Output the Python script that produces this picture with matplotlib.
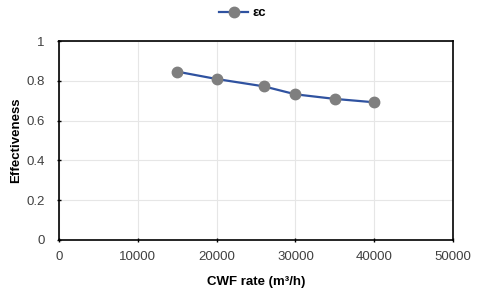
import matplotlib
matplotlib.use("Agg")
import matplotlib.pyplot as plt

plt.rcParams['font.family'] = ['Liberation Sans', 'DejaVu Sans']

flow = [15000, 20000, 26000, 30000, 35000, 40000]
eff = [0.846, 0.809, 0.772, 0.732, 0.709, 0.692]
series_name = "εc"
x_ticks = [0, 10000, 20000, 30000, 40000, 50000]
y_ticks = [0, 0.2, 0.4, 0.6, 0.8, 1]
y_tick_labels = ["0", "0.2", "0.4", "0.6", "0.8", "1"]

fig = plt.figure(figsize=(4.8, 2.93), dpi=100)
ax = fig.add_axes([0.123, 0.181, 0.821, 0.679])
ax.plot(flow, eff, color='#2f52a0', lw=1.6, marker='o', ms=7.5,
        mfc='#7f7f7f', mec='#7f7f7f', label=series_name, zorder=3)
ax.set_xlim(0, 50000)
ax.set_ylim(0, 1)
ax.set_xticks(x_ticks)
ax.set_yticks(y_ticks)
ax.set_yticklabels(y_tick_labels)
ax.grid(True, color='#e6e6e6', lw=0.8)
ax.set_axisbelow(True)
for s in ax.spines.values():
    s.set_color('black')
    s.set_linewidth(1.2)
ax.tick_params(axis='both', labelsize=9.5, length=3, width=1, direction='inout',
               colors='black', labelcolor='#404040')
ax.tick_params(axis='x', pad=6.5)
ax.tick_params(axis='y', pad=9)
ax.set_xlabel('CWF rate (m³/h)', fontsize=9.5, fontweight='bold', labelpad=9)
ax.set_ylabel('Effectiveness', fontsize=9.5, fontweight='bold', labelpad=3)
leg = fig.legend(loc='center', bbox_to_anchor=(0.505, 0.955), frameon=False,
                 prop={'size': 9.5, 'weight': 'bold'}, handlelength=2.2, handletextpad=0.3)
fig.savefig('out.png', dpi=100)
